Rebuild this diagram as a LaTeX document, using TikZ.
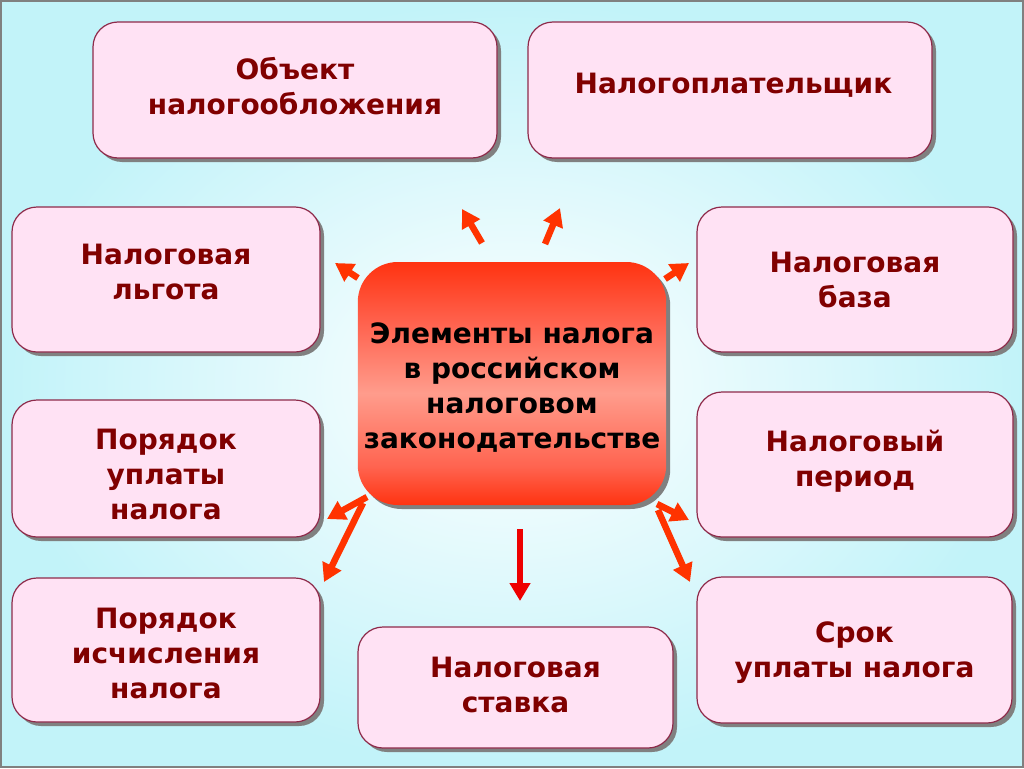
\documentclass[tikz,border=0pt]{standalone}
\usepackage{fontspec}
\setmainfont{DejaVu Sans}
\usetikzlibrary{arrows.meta, shadows}
\definecolor{boxfill}{HTML}{FFE2F4}
\definecolor{boxline}{HTML}{8E2A4A}
\definecolor{boxtext}{HTML}{800000}
\definecolor{bgout}{HTML}{C2F3F9}
\definecolor{arrowred}{HTML}{FF3300}
\definecolor{downred}{HTML}{EE0000}
\definecolor{centertop}{HTML}{FF3311}
\definecolor{centerlow}{HTML}{FF6450}
\definecolor{centermid}{HTML}{FF9C8C}
\pgfdeclareverticalshading{centreshade}{100bp}{color(0bp)=(centertop); color(25bp)=(centertop); color(33bp)=(centerlow); color(48bp)=(centermid); color(62bp)=(centerlow); color(75bp)=(centertop); color(100bp)=(centertop)}
\newcommand{\elementtext}[2][0pt]{\raisebox{#1}[\height][\depth]{\begin{tabular}{c} #2 \end{tabular}}}
\tikzstyle{element} = [rectangle, rounded corners=25pt, inner sep=0pt, text centered, draw=boxline, line width=1.2pt, fill=boxfill, text=boxtext, font=\fontsize{28}{35}\selectfont\bfseries, drop shadow={shadow xshift=4pt, shadow yshift=-4pt, fill=gray, opacity=1}]
\tikzstyle{centre} = [rectangle, rounded corners=40pt, inner sep=0pt, text centered, shading=centreshade, text=black, font=\fontsize{28}{35}\selectfont\bfseries, drop shadow={shadow xshift=4pt, shadow yshift=-4pt, fill=gray, opacity=1}]
\tikzstyle{arrow} = [line width=6.5pt, arrowred, -{Triangle[width=20pt, length=18pt]}]
\tikzstyle{downarrow} = [line width=6pt, downred, -{Triangle[width=20pt, length=18pt]}]

\begin{document}
\begin{tikzpicture}[x=1pt, y=1pt, yscale=-1]

\useasboundingbox (0, 0) rectangle (1024, 768);
\shade [inner color=white, outer color=bgout, draw=gray, line width=2pt] (1, 1) rectangle (1023, 767);

\node at (512, 383.5) (centre) [centre, minimum width=308pt, minimum height=243pt] {\elementtext[-5pt]{Элементы налога \\ в российском \\ налоговом \\ законодательстве}};

\node at (295, 90) (object) [element, minimum width=404pt, minimum height=136pt] {\elementtext{Объект \\ налогообложения}};
\node at (730, 90) (payer) [element, minimum width=404pt, minimum height=136pt] {\elementtext[4pt]{\hspace{7pt}Налогоплательщик}};
\node at (166, 279.5) (relief) [element, minimum width=308pt, minimum height=145pt] {\elementtext[5pt]{Налоговая \\ льгота}};
\node at (855, 279.5) (base) [element, minimum width=316pt, minimum height=145pt] {\elementtext[-3pt]{Налоговая \\ база}};
\node at (166, 468.5) (payment) [element, minimum width=308pt, minimum height=137pt] {\elementtext[-9pt]{Порядок \\ уплаты \\ налога}};
\node at (855, 464.5) (period) [element, minimum width=316pt, minimum height=145pt] {\elementtext[2.5pt]{Налоговый \\ период}};
\node at (166, 650) (calc) [element, minimum width=308pt, minimum height=144pt] {\elementtext[-6pt]{Порядок \\ исчисления \\ налога}};
\node at (515.5, 687.5) (rate) [element, minimum width=315pt, minimum height=121pt] {\elementtext{Налоговая \\ ставка}};
\node at (854.5, 650) (term) [element, minimum width=315pt, minimum height=146pt] {\elementtext[-3pt]{Срок \\ уплаты налога}};

% arrow ends
\coordinate (objectTail) at (482, 243);
\coordinate (objectTip) at (462, 209);
\coordinate (payerTail) at (545, 244);
\coordinate (payerTip) at (560, 208);
\coordinate (reliefTail) at (358, 278);
\coordinate (reliefTip) at (335, 263);
\coordinate (baseTail) at (665, 279);
\coordinate (baseTip) at (689, 263);
\coordinate (paymentTail) at (367, 497);
\coordinate (paymentTip) at (327, 519);
\coordinate (calcTail) at (363, 503);
\coordinate (calcTip) at (324, 582);
\coordinate (rateTail) at (520, 529);
\coordinate (rateTip) at (520, 601);
\coordinate (periodTail) at (657, 504);
\coordinate (periodTip) at (689, 520);
\coordinate (termTail) at (658, 510);
\coordinate (termTip) at (690, 582);

\draw [arrow] (objectTail) -- (objectTip);
\draw [arrow] (payerTail) -- (payerTip);
\draw [arrow] (reliefTail) -- (reliefTip);
\draw [arrow] (baseTail) -- (baseTip);
\draw [arrow] (paymentTail) -- (paymentTip);
\draw [arrow] (calcTail) -- (calcTip);
\draw [downarrow] (rateTail) -- (rateTip);
\draw [arrow] (periodTail) -- (periodTip);
\draw [arrow] (termTail) -- (termTip);

\end{tikzpicture}
\end{document}
